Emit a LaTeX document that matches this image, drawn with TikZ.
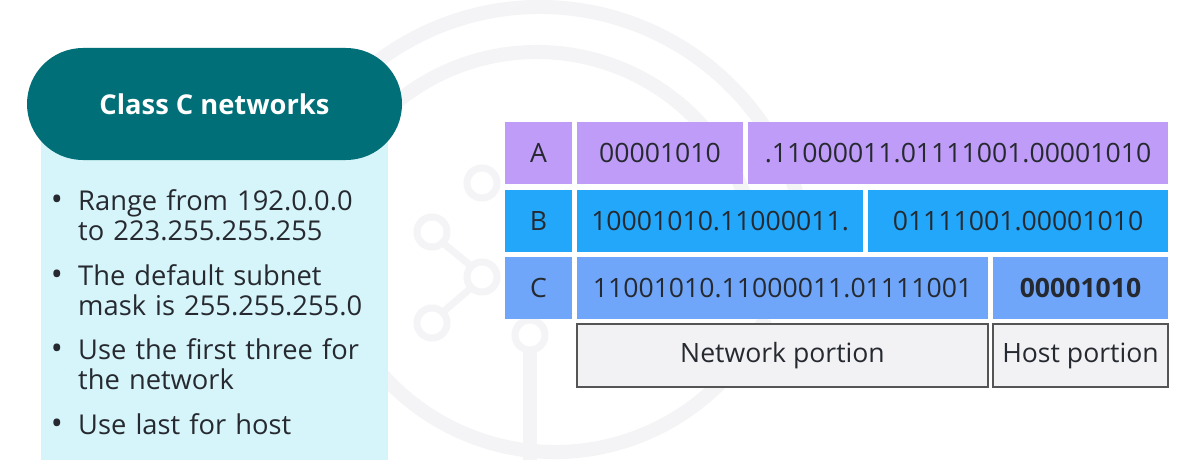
\documentclass[tikz,border=0pt]{standalone}
\usepackage{fontspec}
\setmainfont{Open Sans}
\usetikzlibrary{shapes.misc}
\definecolor{titleteal}{HTML}{006F78}
\definecolor{panelcyan}{HTML}{D6F5FA}
\definecolor{rowa}{HTML}{C09CF9}
\definecolor{rowb}{HTML}{22A7FA}
\definecolor{rowc}{HTML}{6FA6FA}
\definecolor{portionfill}{HTML}{F2F2F5}
\definecolor{portionline}{HTML}{555555}
\definecolor{inkgray}{HTML}{262A30}
\definecolor{markgray}{HTML}{F4F4F6}
\tikzset{
  cell/.style={anchor=north west, inner sep=0pt, outer sep=0pt, minimum height=62pt, text=inkgray, font=\fontsize{26.6}{30}\selectfont},
  portion/.style={cell, minimum height=63pt, draw=portionline, line width=1.3pt, fill=portionfill},
  item/.style={anchor=base west, text width=305pt, align=left, inner sep=0pt, text=inkgray, font=\fontsize{27.3}{30}\selectfont},
  bullet/.style={anchor=base, inner sep=0pt, text=inkgray, font=\fontsize{32}{30}\selectfont},
  wmark/.style={draw=markgray, line width=14pt},
  wdot/.style={draw=markgray, line width=7pt}
}
\begin{document}
\begin{tikzpicture}[x=1pt, y=-1pt]
\useasboundingbox (0,0) rectangle (1186,460);
\fill[white] (0,0) rectangle (1186,460);
\draw[wmark] ([shift={(190:270)}]540,277) arc[start angle=190, end angle=350, radius=270];
\draw[wmark] ([shift={(190:222)}]537,274) arc[start angle=190, end angle=350, radius=222];
\draw[wmark] ([shift={(25:232)}]555,220) arc[start angle=25, end angle=155, radius=232];
\draw[wdot] (482,183) circle (15);
\draw[wdot] (432,232) circle (15);
\draw[wdot] (482,277) circle (15);
\draw[wdot] (432,323) circle (15);
\draw[wdot] (443,243) -- (471,266);
\draw[wdot] (471,288) -- (443,312);
\draw[wdot] (530,335) circle (15);
\draw[wmark] (530,350) -- (530,460);

\node[anchor=north west, fill=panelcyan, minimum width=347pt, minimum height=356pt, inner sep=0pt] (panel) at (41,104) {};
\node[rounded rectangle, fill=titleteal, minimum width=375pt, minimum height=112pt, inner sep=0pt, text=white, font=\bfseries\fontsize{27.3}{30}\selectfont] (title) at (214.5,104) {Class C networks};
\node[bullet] (d1) at (57,210) {•};
\node[item] (t1) at (78,210) {Range from 192.0.0.0\\to 223.255.255.255};
\node[bullet] (d2) at (57,285) {•};
\node[item] (t2) at (78,285) {The default subnet\\mask is 255.255.255.0};
\node[bullet] (d3) at (57,359) {•};
\node[item] (t3) at (78,359) {Use the first three for\\the network};
\node[bullet] (d4) at (57,434) {•};
\node[item] (t4) at (78,434) {Use last for host};

\node[cell, fill=rowa, minimum width=67pt] (la) at (505,122) {A};
\node[cell, fill=rowa, minimum width=166pt] (a1) at (577,122) {00001010};
\node[cell, fill=rowa, minimum width=420pt] (a2) at (748,122) {.11000011.01111001.00001010};
\node[cell, fill=rowb, minimum width=67pt] (lb) at (505,190) {B};
\node[cell, fill=rowb, minimum width=286pt] (b1) at (577,190) {10001010.11000011.};
\node[cell, fill=rowb, minimum width=300pt] (b2) at (868,190) {01111001.00001010};
\node[cell, fill=rowc, minimum width=67pt] (lc) at (505,257) {C};
\node[cell, fill=rowc, minimum width=411pt] (c1) at (577,257) {11001010.11000011.01111001};
\node[cell, fill=rowc, minimum width=175pt] (c2) at (993,257) {\bfseries 00001010};
\node[portion, minimum width=411pt] (net) at (577,324) {Network portion};
\node[portion, minimum width=175pt] (host) at (993,324) {Host portion};
\end{tikzpicture}
\end{document}
